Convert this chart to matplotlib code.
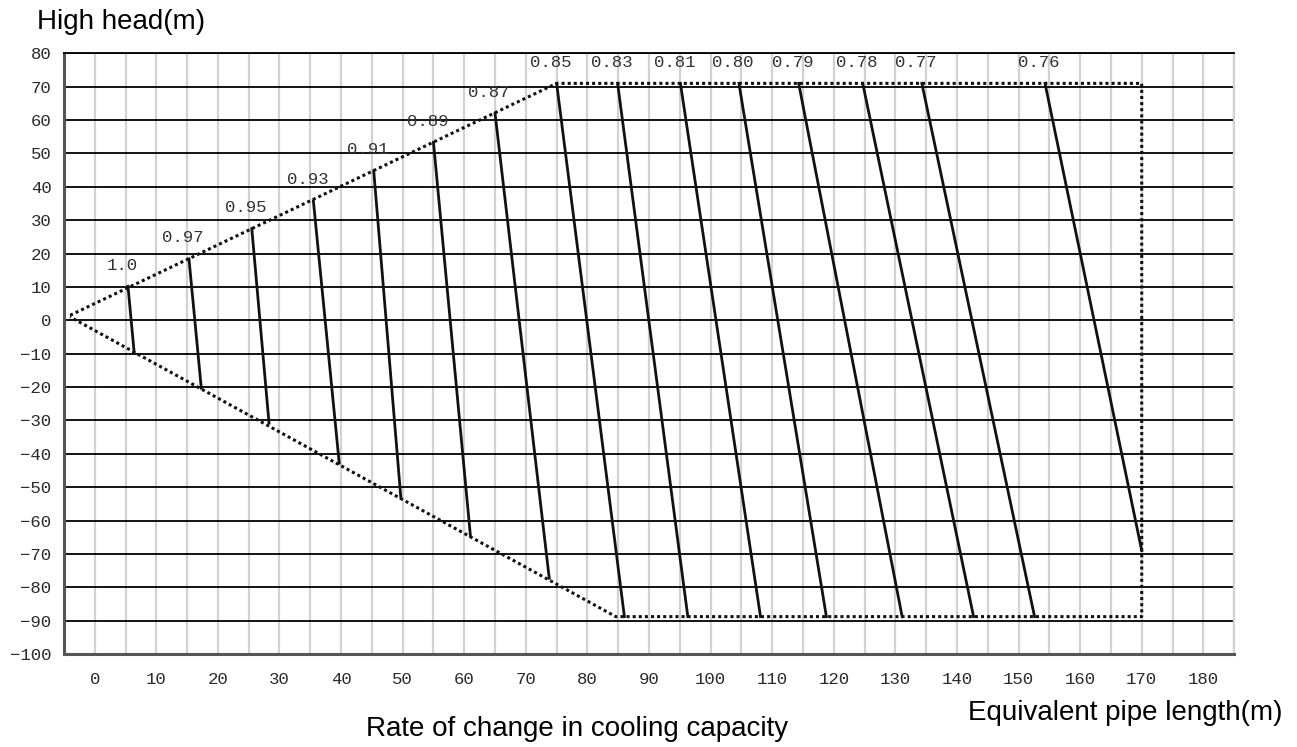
import numpy as np
import matplotlib
matplotlib.use("Agg")
import matplotlib.pyplot as plt

# capacity-change ratio lines: (top end) -> (bottom end)
ratio_labels = ["1.0", "0.97", "0.95", "0.93", "0.91", "0.89", "0.87", "0.85",
                "0.83", "0.81", "0.80", "0.79", "0.78", "0.77", "0.76"]
top_x = [5.4, 15.3, 25.5, 35.5, 45.3, 55.0, 65.0, 75.0,
         84.9, 95.1, 104.6, 114.3, 124.7, 134.3, 154.3]
top_y = [10.2, 18.4, 27.5, 35.8, 44.8, 53.3, 62.0, 71.0,
         71.0, 71.0, 71.0, 71.0, 71.0, 71.0, 71.0]
bot_x = [6.4, 17.3, 28.3, 39.7, 49.7, 61.0, 73.8, 86.0,
         96.3, 108.1, 118.8, 131.1, 142.7, 152.6, 170.0]
bot_y = [-9.6, -20.3, -30.8, -42.8, -53.1, -64.6, -77.3, -88.8,
         -88.8, -88.8, -88.8, -88.8, -88.8, -88.8, -69.0]

# dotted envelope
env_x = [-4, 75, 170, 170, 84.6, -4]
env_y = [1.5, 71, 71, -88.8, -88.8, 1.0]

x_ticks = list(range(0, 181, 10))
y_ticks = list(range(-100, 81, 10))

fig = plt.figure(figsize=(12.97, 7.47), dpi=100)
ax = fig.add_axes([0.0493, 0.1245, 0.9022, 0.8041])
ax.set_xlim(-5, 185)
ax.set_ylim(-100, 80)

# grid: light gray verticals every 5, black horizontals every 10
for gx in np.arange(0, 186, 5):
    ax.axvline(gx, color="#d2d2d2", lw=1.6, zorder=1)
for gy in range(-90, 81, 10):
    ax.axhline(gy, color="black", lw=1.3, zorder=2)

ax.plot(env_x, env_y, color="#111111", lw=2.2, linestyle=(0, (1, 1)), zorder=3)

for lab, x0, y0, x1, y1 in zip(ratio_labels, top_x, top_y, bot_x, bot_y):
    ax.plot([x0, x1], [y0, y1], color="#111111", lw=2.0, zorder=4)
    ax.annotate(lab, (x0, y0), xytext=(-6, 21), textcoords="offset pixels",
                ha="center", va="center", fontsize=12.5, color="#333333",
                family="Liberation Mono", zorder=5)

ax.set_xticks(x_ticks)
ax.set_yticks(y_ticks)
ax.tick_params(length=0, labelsize=12.5, labelcolor="#2a2a2a", pad=13)
ax.tick_params(axis="y", pad=9)
for t in ax.get_xticklabels() + ax.get_yticklabels():
    t.set_family("Liberation Mono")

for s in ["left", "bottom"]:
    ax.spines[s].set_color("#555555")
    ax.spines[s].set_linewidth(2.2)
ax.spines["top"].set_color("black")
ax.spines["top"].set_linewidth(1.3)
ax.spines["right"].set_color("#d2d2d2")
ax.spines["right"].set_linewidth(1.6)

fig.text(37 / 1297, 1 - 22 / 747, "High head(m)", fontsize=20,
         family="Liberation Sans", ha="left", va="center")
fig.text(577 / 1297, 1 - 729 / 747, "Rate of change in cooling capacity",
         fontsize=20, family="Liberation Sans", ha="center", va="center")
fig.text(1283 / 1297, 1 - 713 / 747, "Equivalent pipe length(m)", fontsize=20,
         family="Liberation Sans", ha="right", va="center")

fig.savefig("out.png", dpi=100)
